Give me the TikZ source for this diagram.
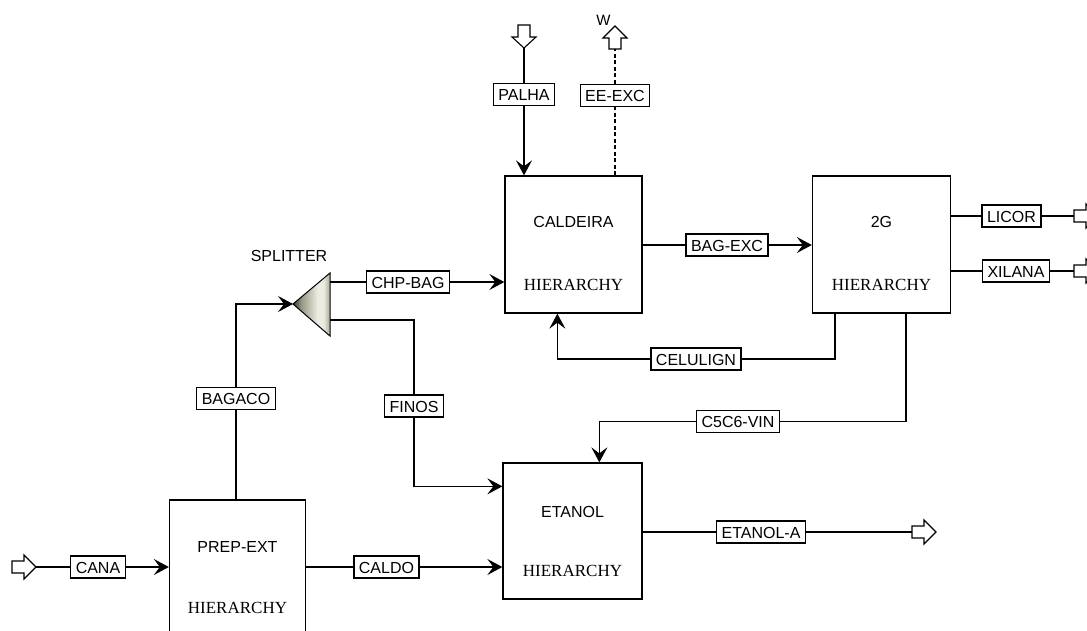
\documentclass[tikz,border=0pt]{standalone}
\usepackage{fontspec}
\setmainfont{Liberation Serif}
\newfontfamily\lsans{Liberation Sans}
\usetikzlibrary{arrows.meta,calc}

\definecolor{splitdark}{RGB}{55,55,38}
\definecolor{splitmid}{RGB}{150,150,128}
\definecolor{splitlight}{RGB}{236,236,226}
\definecolor{splitedge}{RGB}{170,170,152}
\pgfdeclarehorizontalshading{splitshade}{100bp}{color(0bp)=(splitdark); color(25bp)=(splitdark);
  color(36bp)=(splitmid); color(58bp)=(splitlight); color(66bp)=(splitlight);
  color(75bp)=(splitedge); color(100bp)=(splitedge)}

\begin{document}
\begin{tikzpicture}[x=1pt,y=-1pt,line width=1.3pt,
  flow/.style={-{Stealth[length=15pt,width=16pt,inset=6pt]}},
  tag/.style={draw,fill=white,font=\lsans\fontsize{16}{16}\selectfont,
    inner xsep=5pt,inner ysep=5pt,text height=12pt,text depth=0pt},
  unit/.style={draw,minimum width=137pt,minimum height=137pt,inner sep=0pt},
  uname/.style={font=\lsans\fontsize{16}{16}\selectfont,inner sep=0pt},
  hier/.style={font=\fontsize{17}{17}\selectfont,inner sep=0pt},
  feedR/.pic={\draw[fill=white,line width=1.1pt]
    (0,-6)--(12,-6)--(12,-12)--(24,0)--(12,12)--(12,6)--(0,6)--cycle;},
  feedD/.pic={\draw[fill=white,line width=1.1pt]
    (-6,0)--(-6,12)--(-12,12)--(0,23)--(12,12)--(6,12)--(6,0)--cycle;},
  feedU/.pic={\draw[fill=white,line width=1.1pt]
    (-6,0)--(-6,-11)--(-12,-11)--(0,-23)--(12,-11)--(6,-11)--(6,0)--cycle;}]
\useasboundingbox (0,0) rectangle (1087,630);
\clip (0,0) rectangle (1087,630);

% hierarchy blocks
\node[unit] (cald) at (573.5,244.5) {};
\node[unit,minimum width=138pt] (g2) at (881.5,244.5) {};
\node[unit,minimum width=139pt,minimum height=136pt] (etanol) at (572.5,531) {};
\node[unit,minimum width=136pt] (prep) at (237.5,568.5) {};

\node[uname] (caldt) at (573.5,222) {CALDEIRA};
\node[hier]  (caldh) at (573.5,285) {HIERARCHY};
\node[uname] (g2t) at (881.5,222) {2G};
\node[hier]  (g2h) at (881.5,285) {HIERARCHY};
\node[uname] (etanolt) at (572.5,512) {ETANOL};
\node[hier]  (etanolh) at (572.5,571) {HIERARCHY};
\node[uname] (prept) at (237.5,547) {PREP-EXT};
\node[hier]  (preph) at (237.5,608) {HIERARCHY};

% splitter
\shade[shading=splitshade,draw=black,line width=1pt]
  (293,304) -- (330,273) -- (330,336) -- cycle;
\coordinate (splin) at (293,304);
\coordinate (splout1) at (330,282);
\coordinate (splout2) at (330,320);
\node[uname] (splt) at (289,256) {SPLITTER};

% feed and product terminals
\pic at (12,567) {feedR};
\coordinate (canain) at (35,567);
\pic at (524,25) {feedD};
\coordinate (palhain) at (524,48);
\pic at (615,49) {feedU};
\coordinate (wout) at (615,49);
\node[font=\lsans\fontsize{15}{15}\selectfont,inner sep=0pt] (wt) at (603.5,20) {W};
\pic at (912,532) {feedR};
\coordinate (etaout) at (912,532);
\pic at (1074,216) {feedR};
\coordinate (licorout) at (1074,216);
\pic at (1074,271) {feedR};
\coordinate (xilout) at (1074,271);

% stream tags
\node[tag] (cana) at (98,567) {CANA};
\node[tag] (caldo) at (386.5,567) {CALDO};
\node[tag] (etanola) at (761,532) {ETANOL-A};
\node[tag] (bagaco) at (236,398.5) {BAGACO};
\node[tag] (chpbag) at (408,282) {CHP-BAG};
\node[tag] (finos) at (414,406) {FINOS};
\node[tag] (palha) at (524,94.5) {PALHA};
\node[tag] (eeexc) at (615,95.5) {EE-EXC};
\node[tag] (bagexc) at (727,245) {BAG-EXC};
\node[tag] (celulign) at (696,359) {CELULIGN};
\node[tag] (c5c6) at (738,421.5) {C5C6-VIN};
\node[tag] (licor) at (1011.5,216) {LICOR};
\node[tag] (xilana) at (1016,271) {XILANA};

% streams
\draw (canain) -- (cana);
\draw[flow] (cana) -- (prep.west |- cana);
\draw (prep.east |- caldo) -- (caldo);
\draw[flow] (caldo) -- (etanol.west |- caldo);
\draw (etanol.east |- etanola) -- (etanola);
\draw (etanola) -- (etaout);
\draw (prep.north -| bagaco) -- (bagaco);
\draw[flow] (bagaco) |- (splin);
\draw (splout1) -- (chpbag);
\draw[flow] (chpbag) -- (cald.west |- chpbag);
\draw (splout2) -| (finos);
\draw[flow] (finos) |- ($(etanol.north west)+(0,24)$);
\draw (palhain) -- (palha);
\draw[flow] (palha) -- (cald.north -| palha);
\draw[dash pattern=on 4pt off 2.5pt,line width=1.1pt] (cald.north -| eeexc) -- (eeexc) -- (wout);
\draw (cald.east |- bagexc) -- (bagexc);
\draw[flow] (bagexc) -- (g2.west |- bagexc);
\draw ($(g2.south west)+(23,0)$) |- (celulign);
\draw[flow] (celulign) -| ($(cald.south west)+(53,0)$);
\draw ($(g2.south west)+(94,0)$) |- (c5c6);
\draw[flow] (c5c6) -| ($(etanol.north west)+(97,0)$);
\draw (g2.east |- licor) -- (licor) -- (licorout);
\draw (g2.east |- xilana) -- (xilana) -- (xilout);
\end{tikzpicture}
\end{document}
